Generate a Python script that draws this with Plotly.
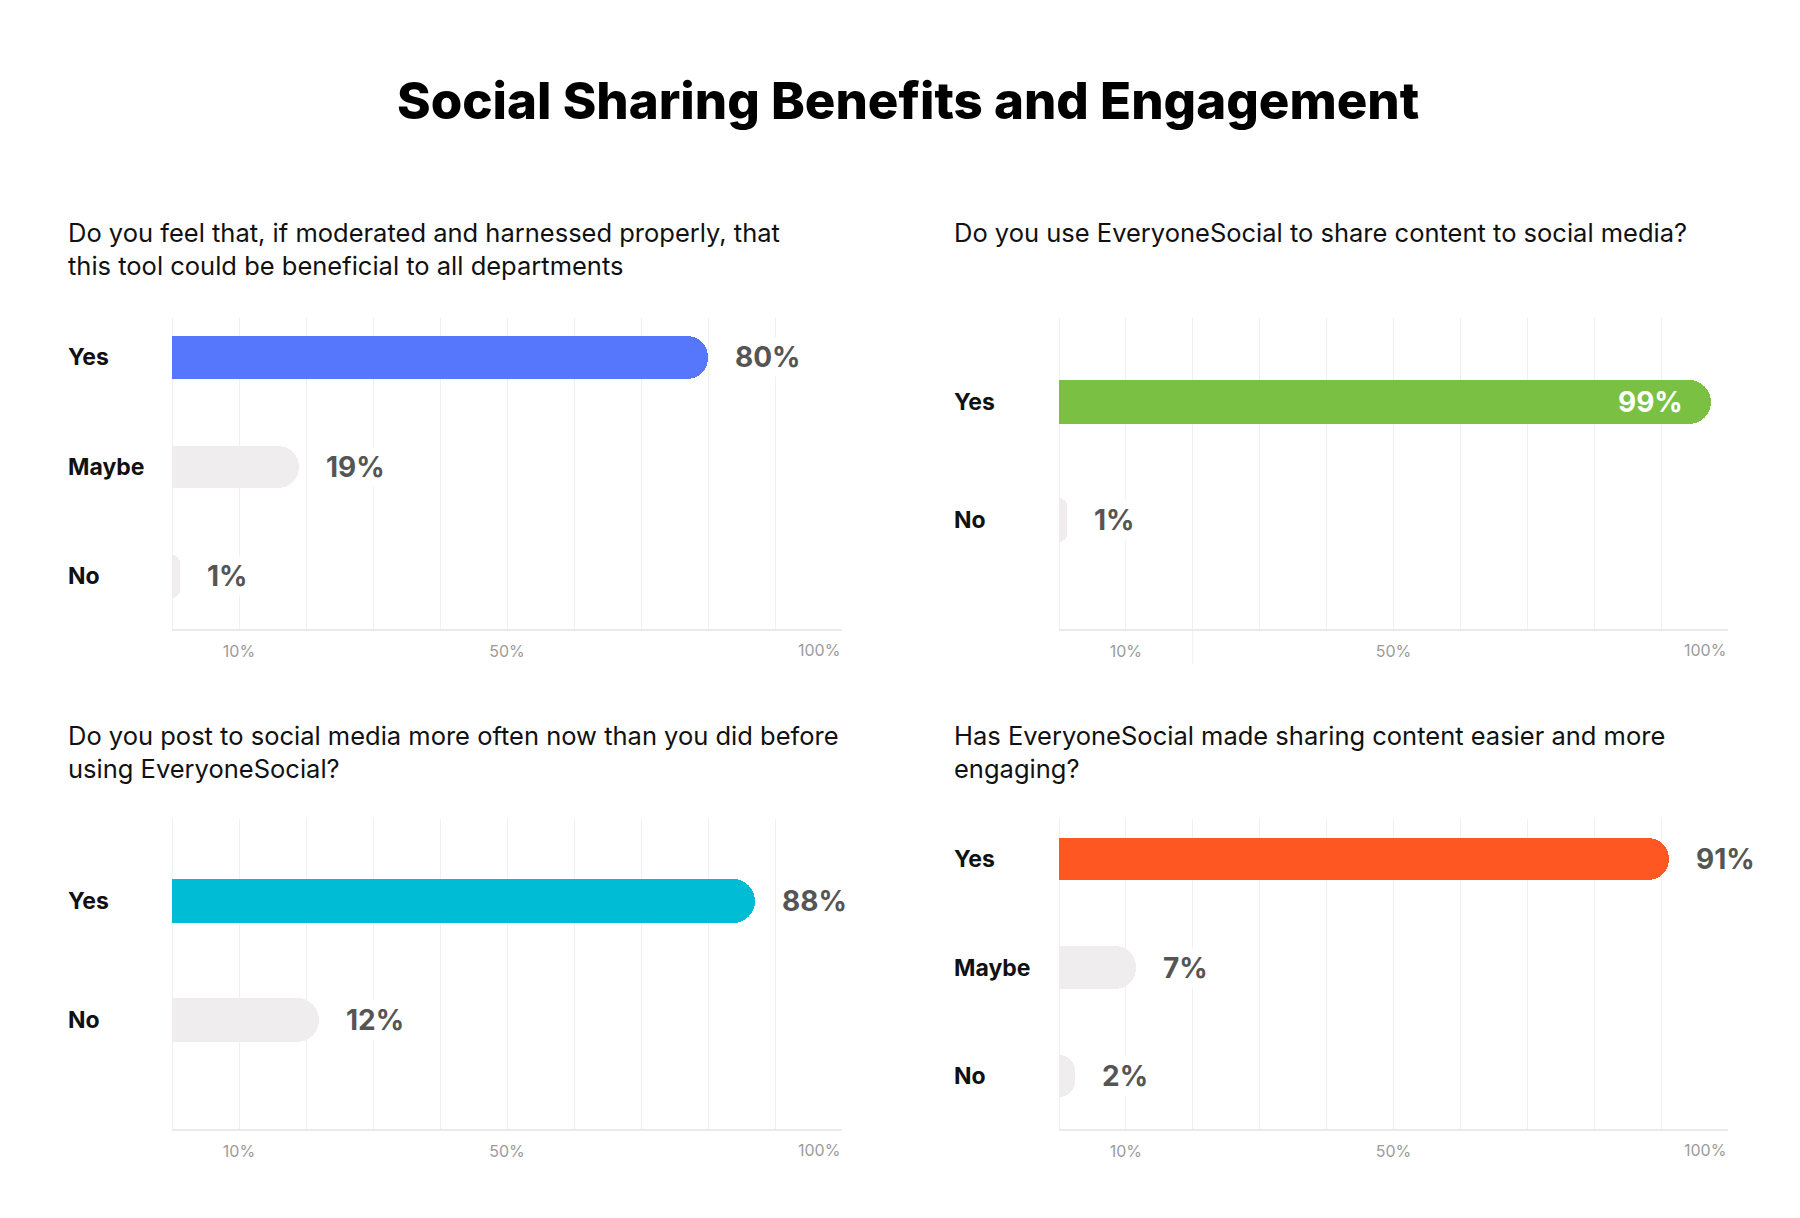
import plotly.graph_objects as go

# ---------------- data ----------------
title_text = "Social Sharing Benefits and Engagement"

q1_question = "Do you feel that, if moderated and harnessed properly, that<br>this tool could be beneficial to all departments"
q1_categories = ["Yes", "Maybe", "No"]
q1_values = [80, 19, 1]            # printed percentages
q1_bar_lengths = [80, 19, 1.2]     # drawn bar lengths

q2_question = "Do you use EveryoneSocial to share content to social media?"
q2_categories = ["Yes", "No"]
q2_values = [99, 1]
q2_bar_lengths = [97.5, 1.2]

q3_question = "Do you post to social media more often now than you did before<br>using EveryoneSocial?"
q3_categories = ["Yes", "No"]
q3_values = [88, 12]
q3_bar_lengths = [87, 22]

q4_question = "Has EveryoneSocial made sharing content easier and more<br>engaging?"
q4_categories = ["Yes", "Maybe", "No"]
q4_values = [91, 7, 2]
q4_bar_lengths = [91.2, 11.5, 2.4]

tick_values = [10, 50]
tick_labels = ["10%", "50%"]
last_tick_value = 100
last_tick_label = "100%"

# ---------------- styles / layout ----------------
W, H = 1800, 1218
FONT = "Inter"
GREY_BAR = "#EFEDEE"
GRID = "#F0F0F0"

def px_x(p):
    return p / W

def px_y(p):
    return 1 - p / H

panels = [
    dict(question=q1_question, cats=q1_categories, vals=q1_values, lens=q1_bar_lengths,
         color="#5677FC", xdom=(164, 834), ydom=(310, 621), qx=58, qy=241, labx=58,
         yrange=[2.48, -0.36], width=0.39, inside=False),
    dict(question=q2_question, cats=q2_categories, vals=q2_values, lens=q2_bar_lengths,
         color="#7AC043", xdom=(1051, 1720), ydom=(310, 621), qx=944, qy=225, labx=944,
         yrange=[1.92, -0.71], width=0.37, inside=True),
    dict(question=q3_question, cats=q3_categories, vals=q3_values, lens=q3_bar_lengths,
         color="#00BCD4", xdom=(164, 834), ydom=(811, 1121), qx=58, qy=744, labx=58,
         yrange=[1.92, -0.69], width=0.37, inside=False),
    dict(question=q4_question, cats=q4_categories, vals=q4_values, lens=q4_bar_lengths,
         color="#FF5722", xdom=(1051, 1720), ydom=(811, 1121), qx=944, qy=744, labx=944,
         yrange=[2.49, -0.37], width=0.39, inside=False),
]

fig = go.Figure()
annotations = []
shapes = []

for i, p in enumerate(panels):
    n = i + 1
    xa = "x" if n == 1 else f"x{n}"
    ya = "y" if n == 1 else f"y{n}"
    xkey = "xaxis" if n == 1 else f"xaxis{n}"
    ykey = "yaxis" if n == 1 else f"yaxis{n}"

    colors = [p["color"]] + [GREY_BAR] * (len(p["vals"]) - 1)
    fig.add_trace(go.Bar(
        x=p["lens"], y=list(range(len(p["cats"]))), orientation="h",
        width=p["width"], marker=dict(color=colors, cornerradius="50%", line=dict(width=0)),
        xaxis=xa, yaxis=ya, showlegend=False, hoverinfo="skip",
    ))

    fig.update_layout(**{
        xkey: dict(
            domain=[px_x(p["xdom"][0]), px_x(p["xdom"][1])],
            anchor=ya, range=[0, 100], fixedrange=True,
            tickmode="array", tickvals=tick_values, ticktext=tick_labels,
            tickfont=dict(family=FONT, size=16, color="#9B9B9B"),
            ticks="", ticklabelstandoff=7,
            showgrid=True, gridcolor=GRID, gridwidth=1,
            minor=dict(tickmode="linear", tick0=0, dtick=10, showgrid=True,
                       gridcolor=GRID, gridwidth=1, ticks=""),
            zeroline=True, zerolinecolor=GRID, zerolinewidth=1,
            showline=True, linecolor="#EAEAEA", linewidth=2,
        ),
        ykey: dict(
            domain=[px_y(p["ydom"][1]), px_y(p["ydom"][0])],
            anchor=xa, range=p["yrange"], fixedrange=True,
            showticklabels=False, showgrid=False, zeroline=False, showline=False,
        ),
    })

    # question text
    annotations.append(dict(
        text=p["question"], xref="paper", yref="paper",
        x=px_x(p["qx"]), y=px_y(p["qy"]), xanchor="left", yanchor="middle",
        align="left", showarrow=False,
        font=dict(family=FONT, size=25.5, color="#111111"),
    ))
    # last tick label (right-aligned at end of axis)
    annotations.append(dict(
        text=last_tick_label, xref=xa, yref=f"{ya} domain",
        x=last_tick_value, y=0, xanchor="right", yanchor="top", yshift=-9,
        showarrow=False, font=dict(family=FONT, size=16, color="#9B9B9B"),
    ))
    # category labels + value labels
    for j, (c, v, L) in enumerate(zip(p["cats"], p["vals"], p["lens"])):
        annotations.append(dict(
            text=f"<b>{c}</b>", xref="paper", yref=ya,
            x=px_x(p["labx"]), y=j, xanchor="left", yanchor="middle",
            showarrow=False, font=dict(family=FONT, size=23, color="#111111"),
        ))
        if j == 0 and p["inside"]:
            annotations.append(dict(
                text=f"<b>{v}%</b>", xref=xa, yref=ya, x=L, y=j,
                xanchor="right", yanchor="middle", xshift=-26, showarrow=False,
                font=dict(family=FONT, size=28, color="#FFFFFF"),
            ))
        else:
            annotations.append(dict(
                text=f"<b>{v}%</b>", xref=xa, yref=ya, x=L, y=j,
                xanchor="left", yanchor="middle", xshift=24, showarrow=False,
                bgcolor="#FFFFFF", borderpad=2,
                font=dict(family=FONT, size=28, color="#555555"),
            ))

# odd gridline artefact in the top-right panel (20% line)
shapes.append(dict(type="line", xref="x2", yref="paper", x0=20, x1=20,
                   y0=px_y(310), y1=px_y(342), line=dict(color="#FFFFFF", width=2), layer="below"))
shapes.append(dict(type="line", xref="x2", yref="paper", x0=20, x1=20,
                   y0=px_y(621), y1=px_y(656), line=dict(color=GRID, width=1), layer="below"))

annotations.append(dict(
    text=title_text, xref="paper", yref="paper",
    x=0.5, y=px_y(93), xanchor="center", yanchor="middle", showarrow=False,
    font=dict(family=FONT, size=51, color="#000000", weight=800),
))

fig.update_layout(
    width=W, height=H, autosize=False,
    margin=dict(l=0, r=0, t=0, b=0),
    paper_bgcolor="#FFFFFF", plot_bgcolor="#FFFFFF",
    annotations=annotations, shapes=shapes,
    bargap=0,
)

fig.write_html("out.html")
